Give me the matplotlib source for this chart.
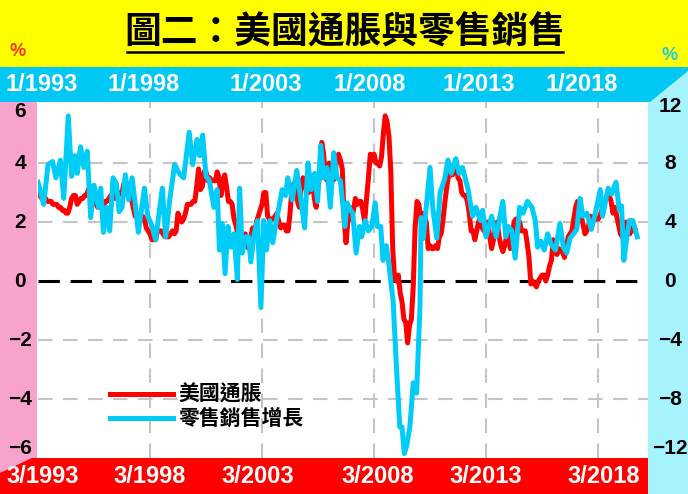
import matplotlib
matplotlib.use('Agg')
import matplotlib.pyplot as plt
from matplotlib.patches import Polygon, Rectangle
from matplotlib.lines import Line2D
import numpy as np

W, H = 688, 494
CJK = ['Noto Sans CJK TC', 'DejaVu Sans']
NUM = ['Liberation Sans', 'DejaVu Sans']

# 美國通脹 (CPI yoy, %), monthly from 1/1993
cpi = [
    2.9, 2.9, 2.8, 2.8, 2.8, 2.7, 2.7, 2.7, 2.6, 2.6, 2.6, 2.5,
    2.5, 2.4, 2.4, 2.3, 2.3, 2.5, 2.8, 2.9, 2.9, 2.6, 2.7, 2.8,
    2.8, 2.9, 2.9, 3.1, 3.2, 3.0, 2.8, 2.6, 2.5, 2.8, 2.6, 2.5,
    2.7, 2.7, 2.8, 2.9, 2.9, 2.8, 3.0, 2.9, 3.0, 3.0, 3.3, 3.3,
    3.0, 3.0, 2.8, 2.5, 2.2, 2.3, 2.2, 2.2, 2.2, 2.1, 1.8, 1.7,
    1.6, 1.4, 1.4, 1.4, 1.7, 1.7, 1.7, 1.6, 1.5, 1.5, 1.5, 1.6,
    1.7, 1.6, 1.7, 2.3, 2.1, 2.0, 2.1, 2.3, 2.6, 2.6, 2.6, 2.7,
    2.7, 3.2, 3.8, 3.1, 3.2, 3.7, 3.7, 3.4, 3.5, 3.4, 3.4, 3.4,
    3.7, 3.5, 2.9, 3.3, 3.6, 3.2, 2.7, 2.7, 2.6, 2.1, 1.9, 1.6,
    1.1, 1.1, 1.5, 1.6, 1.2, 1.1, 1.5, 1.8, 1.5, 2.0, 2.2, 2.4,
    2.6, 3.0, 3.0, 2.2, 2.1, 2.1, 2.1, 2.2, 2.3, 2.0, 1.8, 1.9,
    1.9, 1.7, 1.7, 2.3, 3.1, 3.3, 3.0, 2.7, 2.5, 3.2, 3.5, 3.3,
    3.0, 3.0, 3.1, 3.5, 2.8, 2.5, 3.2, 3.6, 4.7, 4.3, 3.5, 3.4,
    4.0, 3.6, 3.4, 3.5, 4.2, 4.3, 4.1, 3.8, 2.1, 1.3, 2.0, 2.5,
    2.1, 2.4, 2.8, 2.6, 2.7, 2.7, 2.4, 2.0, 2.8, 3.5, 4.3, 4.1,
    4.3, 4.0, 4.0, 3.9, 4.2, 5.0, 5.6, 5.4, 4.9, 3.7, 1.1, 0.1,
    0.0, 0.2, -0.4, -0.7, -1.3, -1.4, -2.1, -1.5, -1.3, -0.2, 1.8, 2.7,
    2.6, 2.1, 2.3, 2.2, 2.0, 1.1, 1.2, 1.1, 1.1, 1.2, 1.1, 1.5,
    1.6, 2.1, 2.7, 3.2, 3.6, 3.6, 3.6, 3.8, 3.9, 3.5, 3.4, 3.0,
    2.9, 2.9, 2.7, 2.3, 1.7, 1.7, 1.4, 1.7, 2.0, 2.2, 1.8, 1.7,
    1.6, 2.0, 1.5, 1.1, 1.4, 1.8, 2.0, 1.5, 1.2, 1.0, 1.2, 1.5,
    1.6, 1.1, 1.5, 2.0, 2.1, 2.1, 2.0, 1.7, 1.7, 1.7, 1.3, 0.8,
    -0.1, 0.0, -0.1, -0.2, 0.0, 0.1, 0.2, 0.2, 0.0, 0.2, 0.5, 0.7,
    1.4, 1.0, 0.9, 1.1, 1.0, 1.0, 0.8, 1.1, 1.5, 1.6, 1.7, 2.1,
    2.5, 2.7, 2.4, 2.2, 1.9, 1.6, 1.7, 1.9, 2.2, 2.0, 2.2, 2.1,
    2.1, 2.2, 2.4, 2.5, 2.8, 2.9, 2.9, 2.7, 2.3, 2.5, 2.2, 1.9,
    1.6, 1.5, 1.9, 2.0, 1.8, 1.6, 1.8, 1.7, 1.7,
]
cpi_t = 1993 + np.arange(len(cpi)) / 12

# 零售銷售增長 (yoy, %)
retail_t = [
    1993.00, 1993.25, 1993.45, 1993.65, 1993.80, 1994.00, 1994.15, 1994.35, 1994.50, 1994.65,
    1994.75, 1994.90, 1995.05, 1995.20, 1995.35, 1995.50, 1995.70, 1995.80, 1995.92, 1996.05,
    1996.20, 1996.35, 1996.50, 1996.62, 1996.75, 1996.90, 1997.05, 1997.20, 1997.32, 1997.48,
    1997.60, 1997.75, 1997.90, 1998.05, 1998.25, 1998.55, 1998.70, 1998.88, 1999.10, 1999.30,
    1999.50, 1999.75, 1999.90, 2000.10, 2000.22, 2000.35, 2000.50, 2000.65, 2000.85, 2001.00,
    2001.10, 2001.22, 2001.35, 2001.48, 2001.62, 2001.75, 2001.90, 2002.00, 2002.12, 2002.28,
    2002.40, 2002.50, 2002.65, 2002.80, 2002.95, 2003.08, 2003.20, 2003.35, 2003.48, 2003.62,
    2003.90, 2004.05, 2004.15, 2004.35, 2004.55, 2004.72, 2004.90, 2005.05, 2005.20, 2005.35,
    2005.48, 2005.62, 2005.75, 2005.90, 2006.05, 2006.20, 2006.35, 2006.50, 2006.70, 2006.80,
    2006.95, 2007.05, 2007.20, 2007.35, 2007.45, 2007.60, 2007.75, 2007.90, 2008.05, 2008.15,
    2008.30, 2008.40, 2008.55, 2008.65, 2008.85, 2009.00, 2009.15, 2009.25, 2009.35, 2009.45,
    2009.60, 2009.75, 2009.90, 2010.05, 2010.10, 2010.20, 2010.35, 2010.50, 2010.62, 2010.80,
    2010.95, 2011.15, 2011.30, 2011.45, 2011.65, 2011.80, 2011.95, 2012.20, 2012.40, 2012.55,
    2012.75, 2012.85, 2013.00, 2013.25, 2013.45, 2013.75, 2013.88, 2014.00, 2014.15, 2014.30,
    2014.50, 2014.65, 2014.85, 2015.05, 2015.20, 2015.30, 2015.45, 2015.60, 2015.75, 2015.90,
    2016.10, 2016.30, 2016.45, 2016.60, 2016.75, 2016.90, 2017.05, 2017.20, 2017.32, 2017.50,
    2017.70, 2017.85, 2018.00, 2018.10, 2018.20, 2018.45, 2018.60, 2018.80, 2018.95, 2019.05,
    2019.15, 2019.28, 2019.40, 2019.55, 2019.75,
]
retail = [
    6.7, 5.2, 7.9, 8.1, 7.0, 8.2, 5.6, 11.2, 7.1, 8.5,
    7.3, 9.1, 7.7, 8.8, 4.3, 6.5, 5.0, 6.3, 3.3, 5.0,
    3.4, 7.0, 6.6, 4.7, 5.0, 7.2, 5.5, 7.0, 5.5, 3.3,
    4.6, 6.3, 4.4, 3.9, 2.8, 6.3, 3.0, 5.5, 7.9, 7.3,
    7.0, 10.1, 7.9, 9.6, 8.5, 9.9, 7.1, 6.8, 5.0, 6.2,
    2.1, 3.9, 0.5, 3.7, 2.3, 3.2, 0.1, 6.3, 1.9, 3.0,
    3.0, 1.3, 3.2, 4.1, -1.8, 4.1, 2.1, 4.1, 2.6, 3.9,
    6.2, 5.8, 7.0, 5.5, 7.5, 5.7, 3.6, 8.0, 6.2, 7.3,
    5.4, 9.2, 7.0, 7.7, 5.0, 8.7, 7.0, 6.8, 3.7, 5.3,
    4.8, 4.6, 1.9, 3.7, 3.0, 4.1, 3.4, 3.7, 5.3, 3.7,
    3.7, 1.4, 2.4, 1.3, -1.3, -5.8, -9.9, -9.9, -11.7, -11.2,
    -9.9, -6.9, -7.6, -1.8, 4.3, 2.9, 5.3, 7.7, 5.0, 2.9,
    6.0, 6.9, 8.2, 7.3, 8.3, 7.3, 7.7, 6.2, 4.4, 5.0,
    4.1, 4.8, 3.0, 4.4, 3.0, 5.4, 3.0, 3.7, 3.4, 1.55,
    5.0, 4.6, 5.4, 5.0, 4.1, 2.3, 2.7, 2.1, 3.2, 2.5,
    2.1, 3.9, 2.3, 1.9, 2.9, 3.2, 3.5, 5.6, 4.4, 4.6,
    3.5, 4.4, 5.5, 6.2, 4.4, 6.3, 5.9, 6.7, 4.8, 5.1,
    1.4, 2.9, 4.1, 4.1, 3.0,
]

left_ticks = [6, 4, 2, 0, -2, -4, -6]
right_ticks = [12, 8, 4, 0, -4, -8, -12]
grid_years = [1998, 2003, 2008, 2013, 2018]
top_labels = ['1/1993', '1/1998', '1/2003', '1/2008', '1/2013', '1/2018']
top_x = [42, 144, 266, 370, 479, 582]
bottom_labels = ['3/1993', '3/1998', '3/2003', '3/2008', '3/2013', '3/2018']
bottom_x = [43, 150, 258, 378, 486, 604]

RED = '#ff0000'
BLUE = '#00ccf8'


def fx(x):
    return x / W


def fy(y):
    return 1 - y / H


fig = plt.figure(figsize=(W / 100, H / 100), dpi=100)
fig.patch.set_facecolor('white')

# coloured frame
fig.add_artist(Rectangle((0, fy(67)), 1, 67 / H, color='#ffff00', lw=0, zorder=-5))
fig.add_artist(Rectangle((fx(648), 0), 40 / W, fy(67), color='#a6f3fd', lw=0, zorder=-5))
fig.add_artist(Rectangle((0, fy(480)), fx(37), (480 - 102) / H, color='#f7a3cb', lw=0, zorder=-5))
fig.add_artist(Polygon([(0, fy(67)), (1, fy(67)), (1, fy(71)), (fx(650), fy(102)), (0, fy(102))],
                       closed=True, color='#00c8f4', lw=0, zorder=-4))
fig.add_artist(Polygon([(0, fy(473)), (fx(32), fy(458)), (fx(648), fy(458)), (fx(648), 0), (0, 0)],
                       closed=True, color=RED, lw=0, zorder=-4))

# title
fig.text(fx(345), fy(33), '圖二：美國通脹與零售銷售', ha='center', va='center',
         fontsize=26.5, fontweight='bold', family=CJK, color='black')
fig.add_artist(Line2D([fx(127), fx(563)], [fy(52), fy(52)], color='black', lw=1.8))
fig.text(fx(18), fy(51), '%', ha='center', va='center', fontsize=13, fontweight='bold',
         family=NUM, color='#ff3010')
fig.text(fx(670), fy(55), '%', ha='center', va='center', fontsize=13, fontweight='bold',
         family=NUM, color='#20c8e0')

for lab, x in zip(top_labels, top_x):
    fig.text(fx(x), fy(84), lab, ha='center', va='center', fontsize=17,
             fontweight='bold', family=NUM, color='white')
for lab, x in zip(bottom_labels, bottom_x):
    fig.text(fx(x), fy(476), lab, ha='center', va='center', fontsize=17,
             fontweight='bold', family=NUM, color='white')

ax = fig.add_axes([fx(38), 36 / H, 610 / W, 356 / H])
ax.set_facecolor('white')
ax.set_xlim(1993.0, 2020.23)
ax.set_ylim(-6, 6.07)
for s in ax.spines.values():
    s.set_visible(False)
ax.set_xticks([])
ax.set_yticks([])

for yv in [4, 2, -2, -4]:
    ax.axhline(yv, color='#c4c4c4', lw=1.5, dashes=(7, 5), zorder=1)
for xv in grid_years:
    ax.axvline(xv, color='#c4c4c4', lw=1.5, dashes=(7, 5), zorder=1)
ax.axhline(0, color='black', lw=2.2, dashes=(7, 3.5), zorder=1)

line_r, = ax.plot(cpi_t, cpi, color=RED, lw=3.6, zorder=3, solid_joinstyle='round')

ax2 = ax.twinx()
ax2.set_ylim(-12, 12.14)
for s in ax2.spines.values():
    s.set_visible(False)
ax2.set_yticks([])
line_b, = ax2.plot(retail_t, retail, color=BLUE, lw=3.6, zorder=3, solid_joinstyle='round')

ytr = ax.get_yaxis_transform()
for v in left_ticks:
    va = 'top' if v == left_ticks[0] else ('bottom' if v == left_ticks[-1] else 'center')
    yy = 6.07 if v == left_ticks[0] else v
    ax.text((20 - 38) / 610, yy, f'{v}'.replace('-', '\u2212'), transform=ytr, ha='center', va=va,
            fontsize=15, fontweight='bold', family=NUM, color='black', clip_on=False)
ytr2 = ax2.get_yaxis_transform()
for v in right_ticks:
    va = 'top' if v == right_ticks[0] else ('bottom' if v == right_ticks[-1] else 'center')
    yy = 12.5 if v == right_ticks[0] else v
    ax2.text((670 - 38) / 610, yy, f'{v}'.replace('-', '\u2212'), transform=ytr2, ha='center', va=va,
             fontsize=15, fontweight='bold', family=NUM, color='black', clip_on=False)

ax2.legend([line_r, line_b], ['美國通脹', '零售銷售增長'], loc='upper left',
           bbox_to_anchor=(fx(110), fy(384)), bbox_transform=fig.transFigure,
           frameon=False, prop={'family': CJK, 'weight': 'bold', 'size': 15},
           handlelength=3.0, handletextpad=0.3, labelspacing=0.15,
           borderpad=0, borderaxespad=0)

fig.savefig('out.png', dpi=100)
